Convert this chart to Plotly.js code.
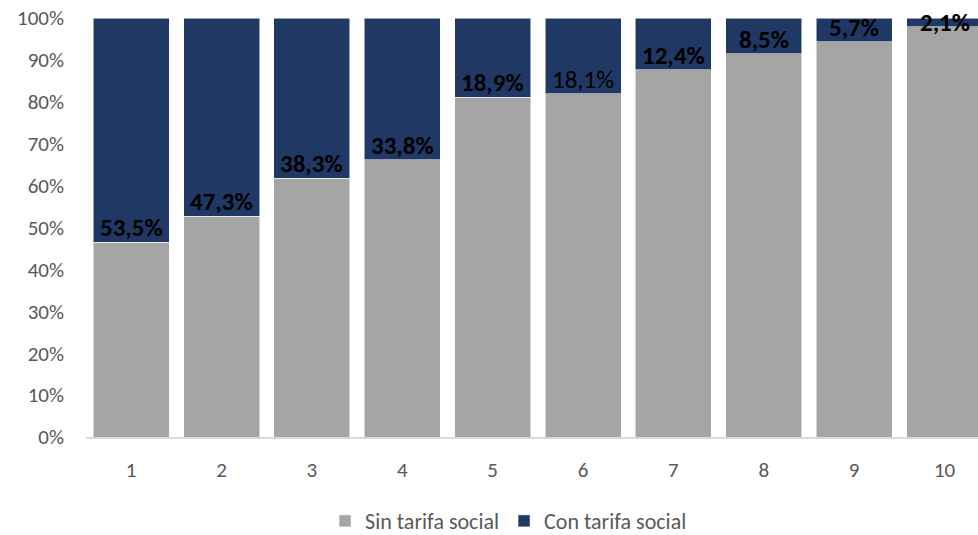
<!DOCTYPE html>
<html>
<head>
<meta charset="utf-8">
<script src="https://cdn.plot.ly/plotly-3.0.1.min.js"></script>
<style>
  html, body { margin: 0; padding: 0; background: #ffffff; }
  #chart { width: 978px; height: 535px; }
</style>
</head>
<body>
<div id="chart"></div>
<script>
// Deciles and the share of households with / without the social tariff
const deciles = ['1', '2', '3', '4', '5', '6', '7', '8', '9', '10'];
const conTarifa = [53.5, 47.3, 38.3, 33.8, 18.9, 18.1, 12.4, 8.5, 5.7, 2.1];
const sinTarifa = [46.5, 52.7, 61.7, 66.2, 81.1, 81.9, 87.6, 91.5, 94.3, 97.9];
const boldLabel = [true, true, true, true, true, false, true, true, true, true];

const FONT = 'Carlito, Lato, "Open Sans", sans-serif';
const GRAY = '#A5A5A5';
const NAVY = '#1F3864';

const fmt = v => v.toFixed(1).replace('.', ',') + '%';

const traces = [
  {
    type: 'bar',
    name: 'Sin tarifa social',
    x: deciles,
    y: sinTarifa,
    marker: { color: GRAY, line: { color: 'rgba(255,255,255,0.7)', width: 0.75 } },
    hoverinfo: 'skip'
  },
  {
    type: 'bar',
    name: 'Con tarifa social',
    x: deciles,
    y: conTarifa,
    marker: { color: NAVY, line: { color: 'rgba(255,255,255,0.7)', width: 0.75 } },
    hoverinfo: 'skip'
  }
];

// Value labels sit at the base of the dark segment; very thin segments get a centred label.
// On a category axis annotations are placed by category index.
const annotations = deciles.map((d, i) => {
  const thin = conTarifa[i] < 5;
  const txt = boldLabel[i] ? '<b>' + fmt(conTarifa[i]) + '</b>' : fmt(conTarifa[i]);
  return {
    x: i,
    y: thin ? sinTarifa[i] + conTarifa[i] / 2 : sinTarifa[i],
    xref: 'x',
    yref: 'y',
    text: txt,
    showarrow: false,
    xanchor: 'center',
    yanchor: thin ? 'middle' : 'bottom',
    yshift: thin ? 0 : -3,
    font: { family: FONT, size: 25, color: '#000000' }
  };
});

const layout = {
  width: 978,
  height: 535,
  margin: { l: 86, r: 0, t: 18, b: 98 },
  paper_bgcolor: '#ffffff',
  plot_bgcolor: '#ffffff',
  barmode: 'stack',
  bargap: 0.16,
  showlegend: true,
  legend: {
    orientation: 'h',
    xref: 'container',
    x: 0.52,
    xanchor: 'center',
    yref: 'container',
    y: 0.026,
    yanchor: 'middle',
    font: { family: FONT, size: 22, color: '#595959' },
    traceorder: 'normal'
  },
  xaxis: {
    type: 'category',
    range: [-0.5, 9.37],
    showgrid: false,
    showline: true,
    linecolor: '#D9D9D9',
    linewidth: 2,
    ticks: '',
    ticklabelstandoff: 13,
    tickfont: { family: FONT, size: 21, color: '#595959' },
    fixedrange: true
  },
  yaxis: {
    range: [0, 100],
    dtick: 10,
    tick0: 0,
    ticksuffix: '%',
    showgrid: false,
    zeroline: false,
    showline: false,
    ticks: '',
    ticklabelstandoff: 21,
    tickfont: { family: FONT, size: 21, color: '#595959' },
    fixedrange: true
  },
  annotations: annotations
};

Plotly.newPlot('chart', traces, layout, { displayModeBar: false, staticPlot: true });
</script>
</body>
</html>
